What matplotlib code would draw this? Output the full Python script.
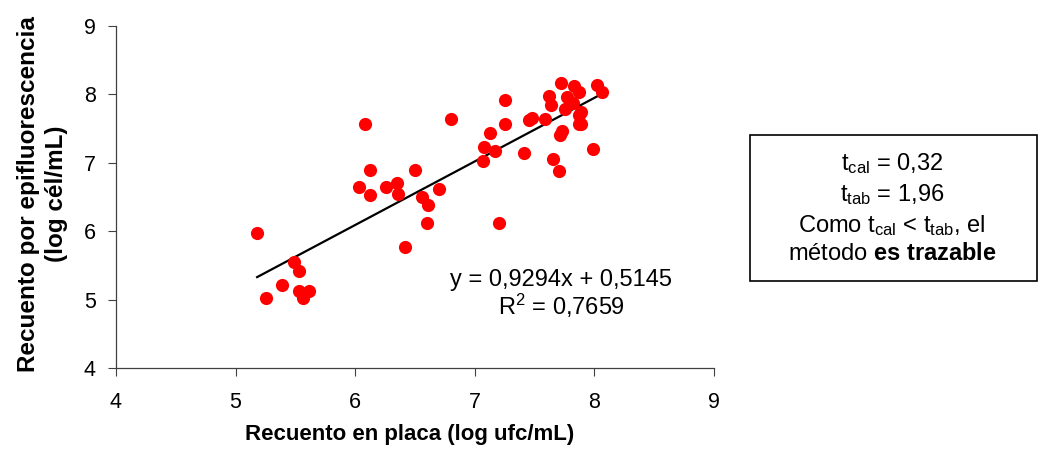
import matplotlib
matplotlib.use("Agg")
import matplotlib.pyplot as plt
from matplotlib.patches import Rectangle
import numpy as np

plt.rcParams['font.family'] = ['Liberation Sans', 'DejaVu Sans']
plt.rcParams['mathtext.fontset'] = 'custom'
plt.rcParams['mathtext.rm'] = 'Liberation Sans'
plt.rcParams['mathtext.it'] = 'Liberation Sans'
plt.rcParams['mathtext.bf'] = 'Liberation Sans:bold'

# recuento en placa (log ufc/mL)
placa = [5.18, 5.25, 5.39, 5.49, 5.53, 5.53, 5.56, 5.61,
         6.03, 6.08, 6.12, 6.12, 6.26, 6.35, 6.36, 6.42, 6.50, 6.56, 6.60, 6.61, 6.70, 6.80,
         7.07, 7.08, 7.13, 7.17, 7.20, 7.25, 7.25, 7.41, 7.45, 7.48, 7.59,
         7.62, 7.64, 7.65, 7.70, 7.71, 7.72, 7.73, 7.75, 7.77, 7.82, 7.83,
         7.87, 7.87, 7.87, 7.89, 7.89, 7.99, 8.02, 8.06]
# recuento por epifluorescencia (log cel/mL)
epif = [5.98, 5.02, 5.22, 5.55, 5.42, 5.13, 5.02, 5.13,
        6.64, 7.56, 6.90, 6.53, 6.64, 6.71, 6.55, 5.77, 6.90, 6.50, 6.12, 6.38, 6.62, 7.64,
        7.02, 7.23, 7.44, 7.17, 6.12, 7.92, 7.56, 7.14, 7.63, 7.66, 7.64,
        7.97, 7.85, 7.06, 6.88, 7.40, 8.16, 7.46, 7.79, 7.96, 7.87, 8.12,
        8.04, 7.70, 7.56, 7.75, 7.56, 7.20, 8.14, 8.04]

pendiente = 0.9294
intercepto = 0.5145

fig = plt.figure(figsize=(10.5, 4.5), dpi=100)
ax = fig.add_axes([116 / 1050, 1 - 368 / 450, 598 / 1050, 342 / 450])

ax.scatter(placa, epif, s=90, color='#ff0000', zorder=3, linewidths=0)
xl = np.array([min(placa), max(placa)])
ax.plot(xl, pendiente * xl + intercepto, color='black', lw=1.6, zorder=2)

ax.set_xlim(4, 9)
ax.set_ylim(4, 9)
ax.set_xticks([4, 5, 6, 7, 8, 9])
ax.set_yticks([4, 5, 6, 7, 8, 9])
ax.spines['top'].set_visible(False)
ax.spines['right'].set_visible(False)
for s in ['left', 'bottom']:
    ax.spines[s].set_color('#404040')
    ax.spines[s].set_linewidth(0.9)
ax.tick_params(labelsize=15.5, length=5.5, color='#404040')
ax.tick_params(axis='x', pad=12)
ax.tick_params(axis='y', pad=9)

ax.set_xlabel('Recuento en placa (log ufc/mL)', fontsize=16, fontweight='bold')
ax.xaxis.set_label_coords(0.491, -0.165)
ax.set_ylabel('Recuento por epifluorescencia\n(log cél/mL)', fontsize=17.5,
              fontweight='bold', linespacing=1.3)
ax.yaxis.set_label_coords(-0.08, 0.51)

ax.text(7.72, 5.07, 'y = 0,9294x + 0,5145\nR$^2$ = 0,7659', fontsize=17,
        ha='center', va='center', linespacing=1.05)

fig.patches.append(Rectangle((750 / 1050, 1 - 281 / 450), 287 / 1050, 146 / 450,
                             transform=fig.transFigure, fill=False,
                             edgecolor='black', lw=1.2))
fig.text(892 / 1050, 1 - 208 / 450,
         r'$\mathrm{t_{cal}}$ = 0,32' + '\n' + r'$\mathrm{t_{tab}}$ = 1,96' + '\n'
         + r'Como $\mathrm{t_{cal}}$ < $\mathrm{t_{tab}}$, el' + '\n'
         + r'método $\mathbf{es\ trazable}$',
         fontsize=17, ha='center', va='center', multialignment='center', linespacing=1.3)

fig.savefig('out.png', dpi=100)
